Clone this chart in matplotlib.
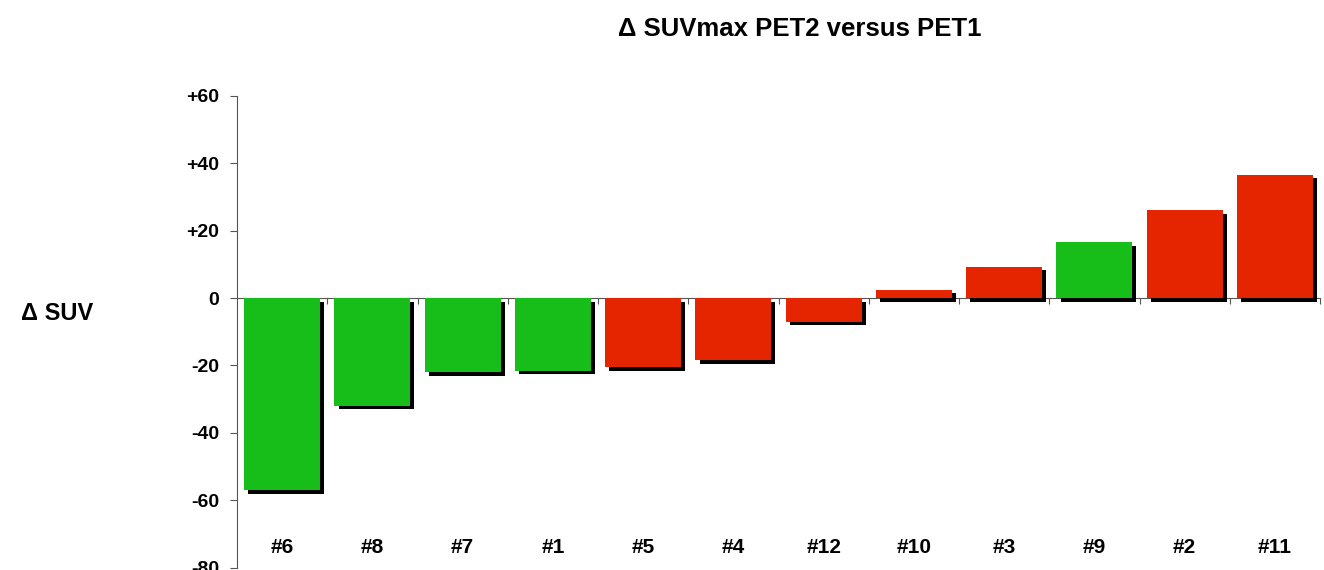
import matplotlib.pyplot as plt
import matplotlib.patheffects as pe

plt.rcParams['font.family'] = ['Liberation Sans', 'DejaVu Sans']

patients = ['#6', '#8', '#7', '#1', '#5', '#4', '#12', '#10', '#3', '#9', '#2', '#11']
delta_suv = [-57, -32, -22, -21.5, -20.5, -18.5, -7, 2.5, 9.3, 16.5, 26, 36.5]
responder = [True, True, True, True, False, False, False, False, False, True, False, False]

green = '#17be1a'
red = '#e52400'
colors = [green if r else red for r in responder]

fig = plt.figure(figsize=(13.24, 5.7), dpi=100)
ax = fig.add_axes([0.179, 0.004, 0.818, 0.828])

x = list(range(len(patients)))
bars = ax.bar(x, delta_suv, width=0.84, color=colors, zorder=3)
# drop shadow like the original chart
for b in bars:
    b.set_path_effects([pe.SimplePatchShadow(offset=(3, -2.5), shadow_rgbFace='black', alpha=1.0),
                        pe.Normal()])

ax.set_xlim(-0.5, len(patients) - 0.5)
ax.set_ylim(-80, 60)
ax.set_yticks([60, 40, 20, 0, -20, -40, -60, -80])
ax.set_yticklabels(['+60', '+40', '+20', '0', '-20', '-40', '-60', '-80'])

# x axis sits on zero, small ticks between the categories
ax.spines['bottom'].set_position(('data', 0))
ax.spines['top'].set_visible(False)
ax.spines['right'].set_visible(False)
ax.spines['bottom'].set_color('#555555')
ax.spines['left'].set_color('#555555')
ax.set_xticks([i + 0.5 for i in x])
ax.set_xticklabels([])
ax.tick_params(axis='x', direction='out', length=4, color='#555555')
ax.tick_params(axis='y', direction='out', length=5, color='#555555', labelsize=14, pad=8)
for lbl in ax.get_yticklabels():
    lbl.set_fontweight('bold')

for i, name in zip(x, patients):
    ax.text(i, -74, name, ha='center', va='center', fontsize=15, fontweight='bold')

fig.text(0.604, 0.95, '\u0394 SUVmax PET2 versus PET1', ha='center', va='center',
         fontsize=18.5, fontweight='bold')
fig.text(0.016, 0.45, '\u0394 SUV', ha='left', va='center', fontsize=17, fontweight='bold')

fig.savefig('out.png', dpi=100)
